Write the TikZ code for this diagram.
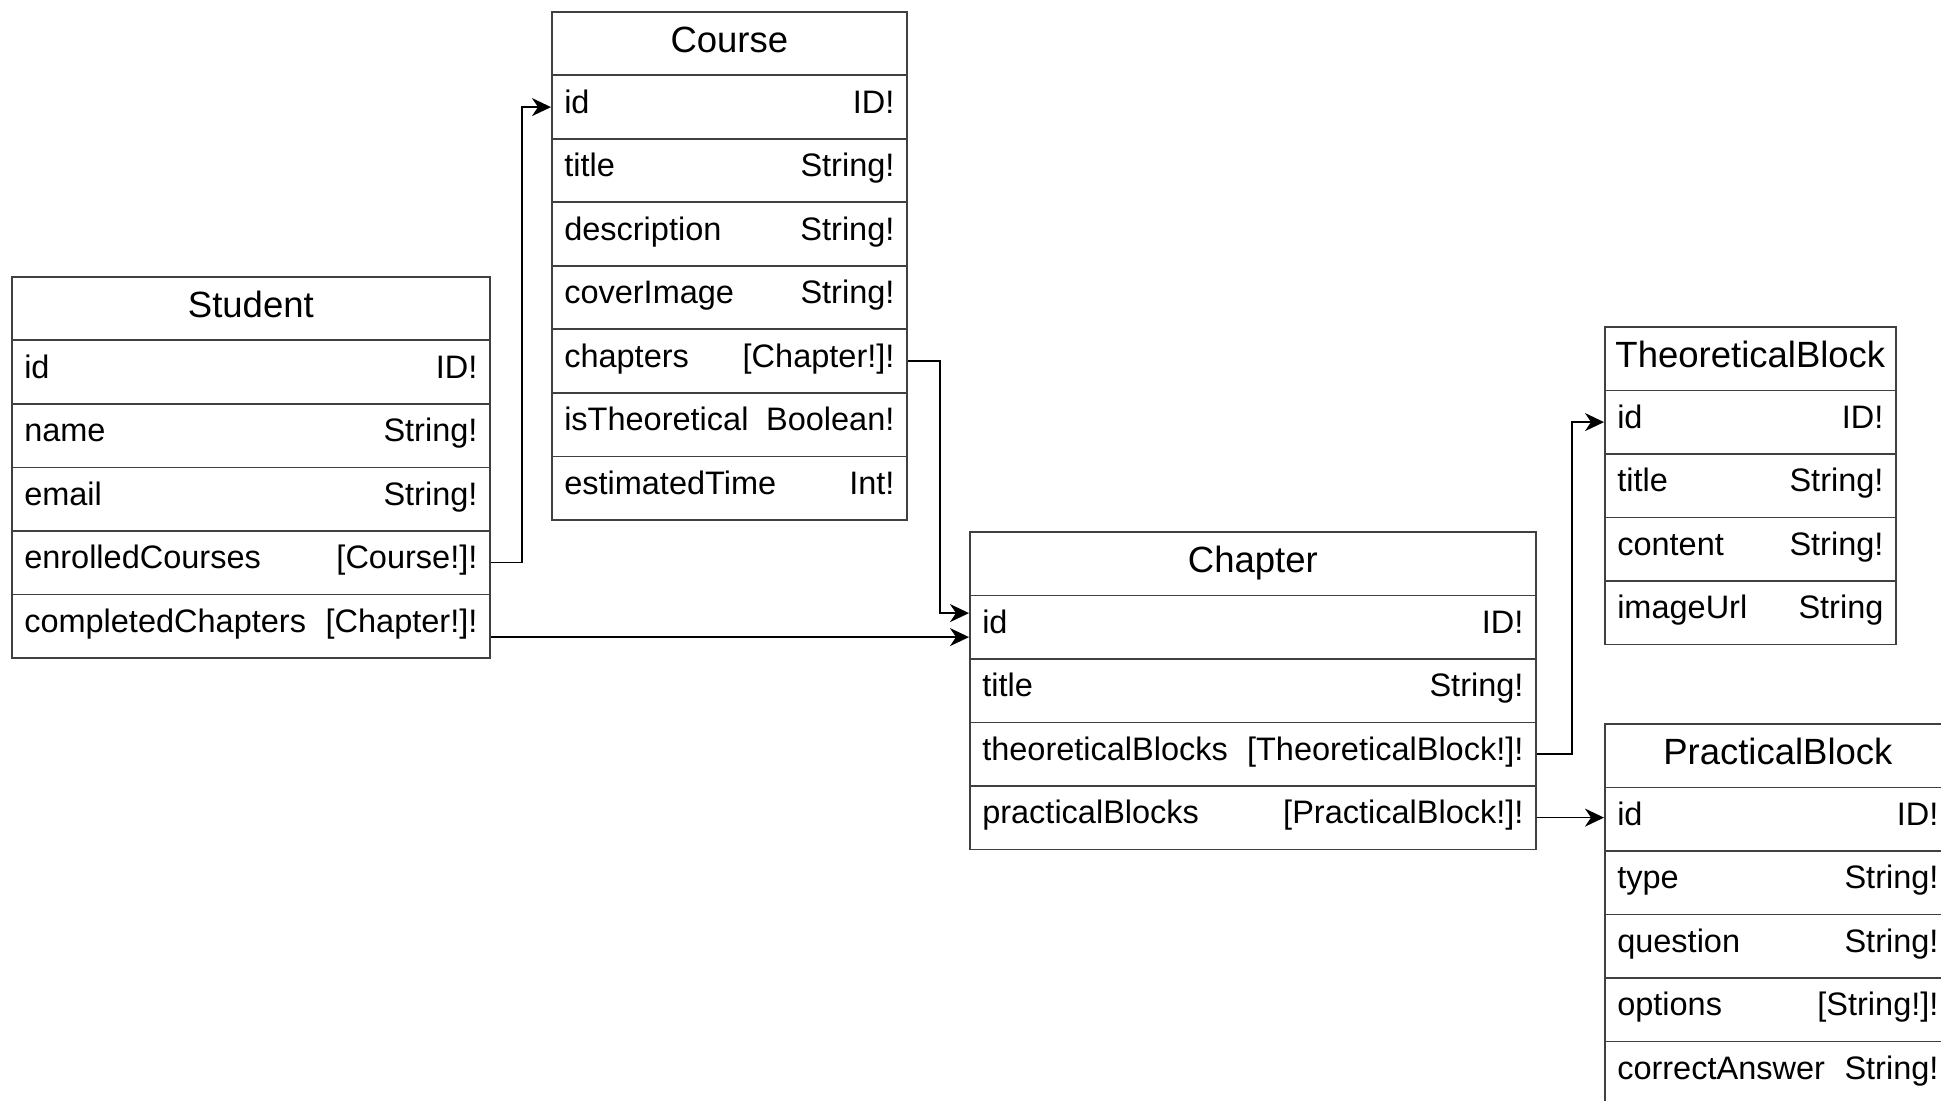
\documentclass[tikz,border=0pt]{standalone}
\usepackage{fontspec}
\setmainfont{Liberation Sans}
\usetikzlibrary{arrows.meta}
\tikzset{
  fieldbox/.style={draw=black!75, line width=0.85pt, fill=white, anchor=north west,
    minimum height=31.75pt, inner xsep=6.2pt, inner ysep=0pt,
    font=\fontsize{16.25}{19}\selectfont, text height=10pt, text depth=4pt},
  headbox/.style={fieldbox, inner xsep=0pt, font=\fontsize{18.25}{22}\selectfont,
    text height=12pt, text depth=3pt},
  conn/.style={draw=black, line width=0.85pt, -{Stealth[length=9.5pt,width=9pt,inset=3pt]}},
}
\newcommand\fld[6]{\node[fieldbox, minimum width=#4*0.5pt] (#1) at (#2,#3)
  {\hbox to \dimexpr #4pt/2-12.4pt\relax{#5\hfil #6}};}
\newcommand\hdr[5]{\node[headbox, minimum width=#4*0.5pt] (#1) at (#2,#3) {#5};}
\begin{document}
\begin{tikzpicture}[x=0.5pt, y=-0.5pt]
\useasboundingbox[fill=white] (0,0) rectangle (1941,1101);
% Student
\hdr{s0}{11}{276}{478}{Student}
\fld{s1}{11}{339.5}{478}{id}{ID!}
\fld{s2}{11}{403}{478}{name}{String!}
\fld{s3}{11}{466.5}{478}{email}{String!}
\fld{s4}{11}{530}{478}{enrolledCourses}{[Course!]!}
\fld{s5}{11}{593.5}{478}{completedChapters}{[Chapter!]!}
% Course
\hdr{c0}{551}{11}{355}{Course}
\fld{c1}{551}{74.5}{355}{id}{ID!}
\fld{c2}{551}{138}{355}{title}{String!}
\fld{c3}{551}{201.5}{355}{description}{String!}
\fld{c4}{551}{265}{355}{coverImage}{String!}
\fld{c5}{551}{328.5}{355}{chapters}{[Chapter!]!}
\fld{c6}{551}{392}{355}{isTheoretical}{Boolean!}
\fld{c7}{551}{455.5}{355}{estimatedTime}{Int!}
% Chapter
\hdr{h0}{969}{531}{566}{Chapter}
\fld{h1}{969}{594.5}{566}{id}{ID!}
\fld{h2}{969}{658}{566}{title}{String!}
\fld{h3}{969}{721.5}{566}{theoreticalBlocks}{[TheoreticalBlock!]!}
\fld{h4}{969}{785}{566}{practicalBlocks}{[PracticalBlock!]!}
% TheoreticalBlock
\hdr{t0}{1604}{326}{291}{TheoreticalBlock}
\fld{t1}{1604}{389.5}{291}{id}{ID!}
\fld{t2}{1604}{453}{291}{title}{String!}
\fld{t3}{1604}{516.5}{291}{content}{String!}
\fld{t4}{1604}{580}{291}{imageUrl}{String}
% PracticalBlock
\hdr{p0}{1604}{723}{346}{PracticalBlock}
\fld{p1}{1604}{786.5}{346}{id}{ID!}
\fld{p2}{1604}{850}{346}{type}{String!}
\fld{p3}{1604}{913.5}{346}{question}{String!}
\fld{p4}{1604}{977}{346}{options}{[String!]!}
\fld{p5}{1604}{1040.5}{346}{correctAnswer}{String!}
% connectors
\draw[conn] (s4.east) -- ++(31,0) |- (c1.west);
\draw[conn] ([yshift=-5.5pt]s5.east) -- ([yshift=-5.5pt]s5.east -| h1.west);
\draw[conn] (c5.east) -- ++(32,0) |- ([yshift=7pt]h1.west);
\draw[conn] (h3.east) -- ++(35,0) |- (t1.west);
\draw[conn] (h4.east) -- (h4.east -| p1.west);
\end{tikzpicture}
\end{document}
